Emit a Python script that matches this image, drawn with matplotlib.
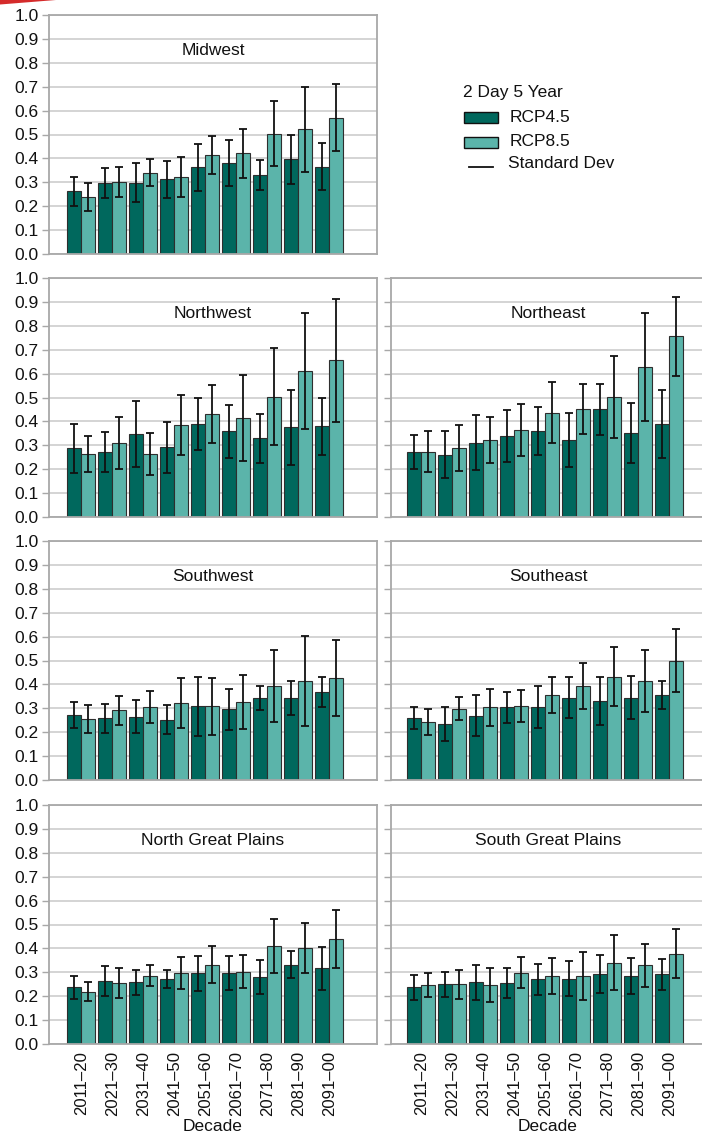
import matplotlib
matplotlib.use("Agg")
import matplotlib.pyplot as plt
from matplotlib.patches import Polygon, Rectangle
from matplotlib.lines import Line2D
import numpy as np

plt.rcParams['font.family'] = ['Liberation Sans', 'DejaVu Sans']

decades = ["2011–20", "2021–30", "2031–40", "2041–50", "2051–60",
           "2061–70", "2071–80", "2081–90", "2091–00"]

midwest_45 = [0.262, 0.298, 0.299, 0.312, 0.362, 0.380, 0.331, 0.396, 0.366]
midwest_45_sd = [0.062, 0.063, 0.083, 0.079, 0.099, 0.097, 0.064, 0.104, 0.097]
midwest_85 = [0.237, 0.301, 0.340, 0.323, 0.414, 0.421, 0.504, 0.521, 0.570]
midwest_85_sd = [0.059, 0.061, 0.056, 0.084, 0.081, 0.104, 0.135, 0.178, 0.140]

northwest_45 = [0.287, 0.272, 0.348, 0.291, 0.389, 0.359, 0.330, 0.375, 0.379]
northwest_45_sd = [0.102, 0.085, 0.138, 0.106, 0.110, 0.111, 0.102, 0.158, 0.118]
northwest_85 = [0.263, 0.308, 0.263, 0.384, 0.430, 0.415, 0.504, 0.611, 0.656]
northwest_85_sd = [0.075, 0.109, 0.088, 0.125, 0.122, 0.181, 0.203, 0.241, 0.257]

northeast_45 = [0.272, 0.260, 0.311, 0.340, 0.359, 0.322, 0.450, 0.352, 0.390]
northeast_45_sd = [0.070, 0.098, 0.116, 0.109, 0.101, 0.113, 0.107, 0.126, 0.143]
northeast_85 = [0.274, 0.288, 0.322, 0.364, 0.436, 0.453, 0.503, 0.627, 0.756]
northeast_85_sd = [0.084, 0.096, 0.096, 0.107, 0.128, 0.105, 0.172, 0.227, 0.165]

southwest_45 = [0.273, 0.258, 0.265, 0.253, 0.308, 0.295, 0.344, 0.343, 0.368]
southwest_45_sd = [0.054, 0.062, 0.070, 0.061, 0.125, 0.087, 0.050, 0.071, 0.061]
southwest_85 = [0.255, 0.291, 0.305, 0.323, 0.308, 0.326, 0.393, 0.414, 0.426]
southwest_85_sd = [0.057, 0.060, 0.068, 0.104, 0.120, 0.112, 0.150, 0.187, 0.160]

southeast_45 = [0.259, 0.234, 0.269, 0.304, 0.305, 0.345, 0.331, 0.345, 0.355]
southeast_45_sd = [0.047, 0.071, 0.086, 0.065, 0.087, 0.084, 0.102, 0.089, 0.059]
southeast_85 = [0.242, 0.299, 0.305, 0.309, 0.355, 0.393, 0.432, 0.415, 0.499]
southeast_85_sd = [0.055, 0.048, 0.077, 0.067, 0.075, 0.096, 0.123, 0.129, 0.132]

ngp_45 = [0.237, 0.265, 0.258, 0.271, 0.295, 0.297, 0.282, 0.332, 0.317]
ngp_45_sd = [0.048, 0.063, 0.051, 0.038, 0.075, 0.072, 0.071, 0.057, 0.089]
ngp_85 = [0.218, 0.257, 0.286, 0.297, 0.332, 0.303, 0.408, 0.401, 0.440]
ngp_85_sd = [0.040, 0.063, 0.044, 0.067, 0.076, 0.069, 0.113, 0.105, 0.120]

sgp_45 = [0.237, 0.249, 0.258, 0.254, 0.270, 0.274, 0.293, 0.286, 0.291]
sgp_45_sd = [0.052, 0.054, 0.072, 0.063, 0.065, 0.073, 0.078, 0.075, 0.064]
sgp_85 = [0.246, 0.249, 0.247, 0.299, 0.284, 0.286, 0.341, 0.330, 0.378]
sgp_85_sd = [0.051, 0.060, 0.070, 0.066, 0.076, 0.100, 0.117, 0.090, 0.102]

C45 = "#00685D"
C85 = "#5BB4AA"
EDGE = "#2E2E2E"
SPINE = "#A8A8A8"
GRID = "#CDCDCD"

W, H = 702, 1136
fig = plt.figure(figsize=(W / 100, H / 100), dpi=100)


def px_axes(x0, x1, y0, y1):
    return fig.add_axes([x0 / W, 1 - y1 / H, (x1 - x0) / W, (y1 - y0) / H])


rows = [(15, 254), (278, 517), (541, 780), (805, 1044)]
cols = [(49, 377, (-1.04, 9.54)), (391, 705, (-0.98, 9.15))]

panels = [
    (0, 0, "Midwest", midwest_45, midwest_45_sd, midwest_85, midwest_85_sd),
    (1, 0, "Northwest", northwest_45, northwest_45_sd, northwest_85, northwest_85_sd),
    (1, 1, "Northeast", northeast_45, northeast_45_sd, northeast_85, northeast_85_sd),
    (2, 0, "Southwest", southwest_45, southwest_45_sd, southwest_85, southwest_85_sd),
    (2, 1, "Southeast", southeast_45, southeast_45_sd, southeast_85, southeast_85_sd),
    (3, 0, "North Great Plains", ngp_45, ngp_45_sd, ngp_85, ngp_85_sd),
    (3, 1, "South Great Plains", sgp_45, sgp_45_sd, sgp_85, sgp_85_sd),
]

x = np.arange(len(decades))
bw = 0.45
err_kw = dict(ecolor="#111111", elinewidth=1.3, capsize=2.8, capthick=1.3)

for r, c, name, v45, s45, v85, s85 in panels:
    x0, x1, xl = cols[c]
    y0, y1 = rows[r]
    ax = px_axes(x0, x1, y0, y1)
    ax.set_axisbelow(True)
    ax.bar(x - bw / 2, v45, bw, color=C45, edgecolor=EDGE, linewidth=0.8,
           yerr=s45, error_kw=err_kw, zorder=2)
    ax.bar(x + bw / 2, v85, bw, color=C85, edgecolor=EDGE, linewidth=0.8,
           yerr=s85, error_kw=err_kw, zorder=2)
    ax.set_xlim(*xl)
    ax.set_ylim(0, 1.0)
    ax.set_yticks(np.arange(0, 1.01, 0.1))
    ax.yaxis.grid(True, color=GRID, linewidth=1.2)
    for sp in ax.spines.values():
        sp.set_color(SPINE)
        sp.set_linewidth(1.3)
    ax.tick_params(axis="y", length=5, width=1.0, color=SPINE, pad=2.5,
                   labelsize=12.5, labelcolor="#111111")
    if c == 0:
        ax.set_yticklabels([f"{t:.1f}" for t in np.arange(0, 1.01, 0.1)])
    else:
        ax.tick_params(axis="y", labelleft=False)
    ax.text(0.5, 0.85, name, transform=ax.transAxes, ha="center", va="center",
            fontsize=12.5, color="#111111")
    if r == 3:
        ax.set_xticks(x)
        ax.set_xticklabels(decades, rotation=90, fontsize=12, color="#111111")
        ax.tick_params(axis="x", length=0, pad=5)
        ax.set_xlabel("Decade", fontsize=12.5, color="#111111", labelpad=2)
    else:
        ax.set_xticks([])

# Legend block in the empty upper-right cell
fs = 12.5
fig.text(463 / W, 1 - 93 / H, "2 Day 5 Year", fontsize=fs, va="center", ha="left", color="#111111")
for yc, col, lab in [(117, C45, "RCP4.5"), (142, C85, "RCP8.5")]:
    fig.add_artist(Rectangle((464 / W, 1 - (yc + 5.5) / H), 34 / W, 11 / H,
                             transform=fig.transFigure, facecolor=col,
                             edgecolor="#111111", linewidth=1.0))
    fig.text(510 / W, 1 - yc / H, lab, fontsize=fs, va="center", ha="left", color="#111111")
fig.add_artist(Line2D([469 / W, 493 / W], [1 - 167 / H, 1 - 167 / H],
                      transform=fig.transFigure, color="#111111", linewidth=1.3))
fig.text(508 / W, 1 - 164 / H, "Standard Dev", fontsize=fs, va="center", ha="left", color="#111111")

# Red accent in the top-left corner
fig.add_artist(Polygon([(0, 1), (56 / W, 1), (25 / W, 1 - 2.5 / H), (0, 1 - 4.5 / H)],
                       closed=True, transform=fig.transFigure,
                       facecolor="#D52B2B", edgecolor="none"))

fig.savefig("out.png", dpi=100)
